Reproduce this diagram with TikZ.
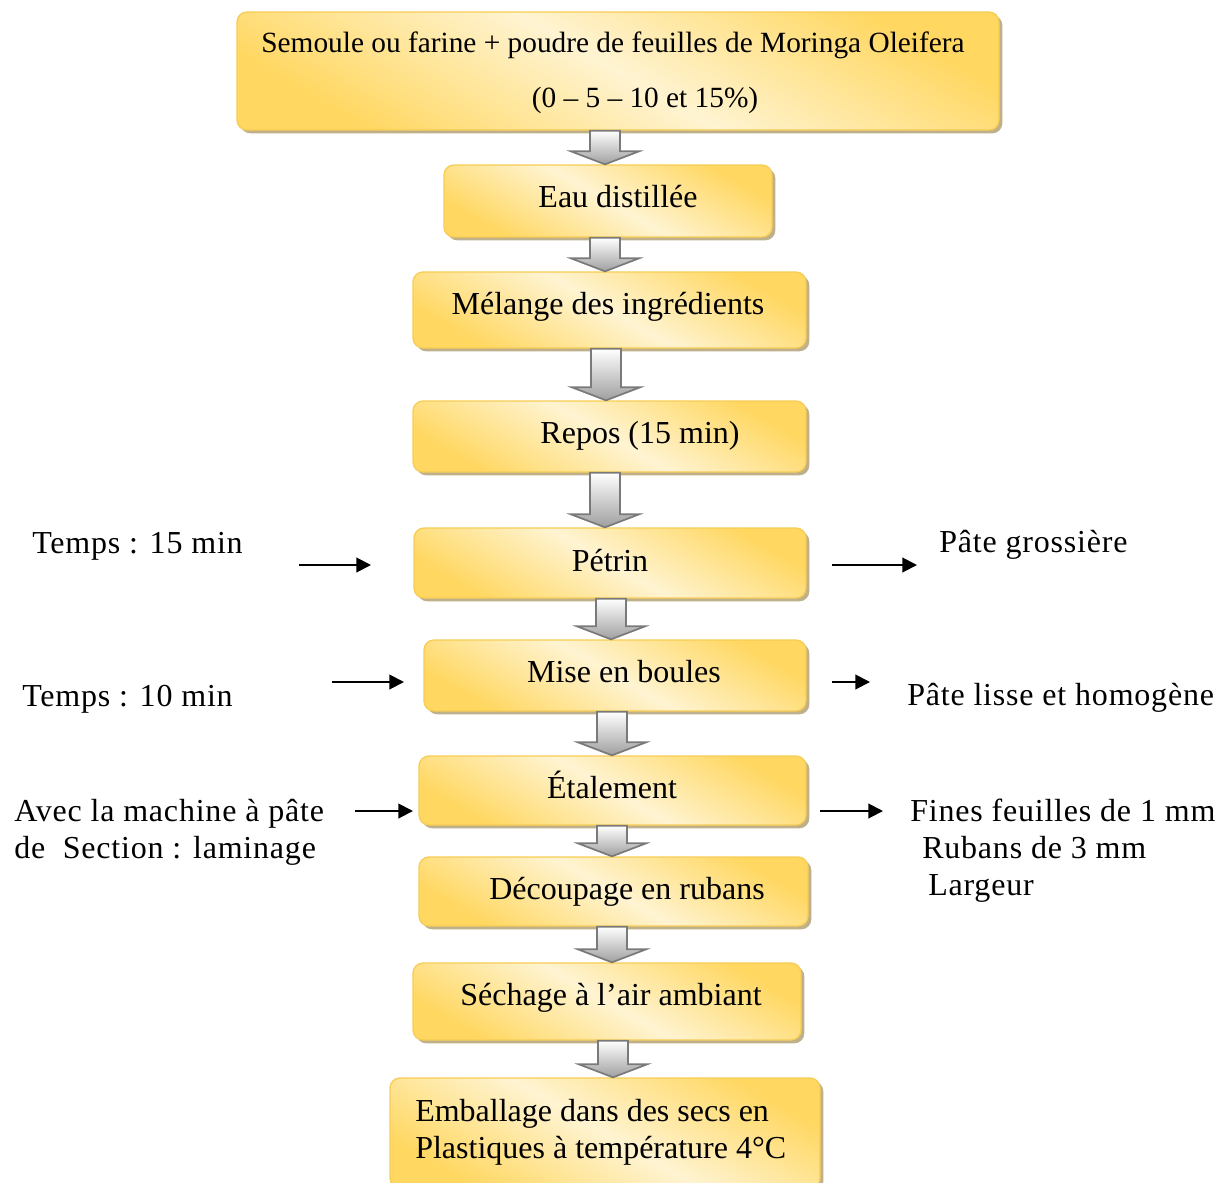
\documentclass[tikz,border=0pt]{standalone}
\usepackage{fontspec}
\setmainfont{Liberation Serif}
\newfontfamily\sidefont[LetterSpace=2.5]{Liberation Serif}
\usetikzlibrary{shadows,arrows.meta,calc}
\definecolor{boxdark}{HTML}{FFD761}
\definecolor{boxlight}{HTML}{FFF4D2}
\definecolor{boxline}{HTML}{F8CD55}
\definecolor{shadowcol}{HTML}{BDB08A}
\definecolor{arrline}{HTML}{7A7A7A}
\pgfdeclarehorizontalshading{goldsh}{100bp}{color(0bp)=(boxdark); color(25bp)=(boxdark); color(50bp)=(boxlight); color(75bp)=(boxdark); color(100bp)=(boxdark)}
\newcommand\barr[3]{%
  \draw[barrow] let \p1=(#2.south), \p2=(#3.north) in
    ({#1*0.75pt-11.25pt},\y1) -- ({#1*0.75pt+11.25pt},\y1) --
    ({#1*0.75pt+11.25pt},\y2+9.75pt) -- ({#1*0.75pt+25.5pt},\y2+9.75pt) --
    ({#1*0.75pt},\y2) -- ({#1*0.75pt-25.5pt},\y2+9.75pt) --
    ({#1*0.75pt-11.25pt},\y2+9.75pt) -- cycle;}
\begin{document}
\begin{tikzpicture}[x=0.75pt,y=-0.75pt,
  box/.style={draw=boxline, line width=1pt, rounded corners=7.5pt, shade, shading=goldsh, shading angle=60,
    drop shadow={shadow xshift=2.5pt, shadow yshift=-2.5pt, fill=shadowcol, opacity=1}, inner sep=0pt},
  txt/.style={font=\fontsize{24}{28}\selectfont, anchor=base, inner sep=0pt},
  sidetxt/.style={font=\sidefont\fontsize{24}{28}\selectfont, anchor=base west, inner sep=0pt},
  smalltxt/.style={font=\fontsize{22}{26}\selectfont, anchor=base, inner sep=0pt},
  sidearrow/.style={-{Triangle[length=11pt,width=11pt]}, line width=1.5pt},
  barrow/.style={draw=arrline, line width=1.3pt, top color=white, bottom color=gray!75}
]
\useasboundingbox (0,0) rectangle (1231,1182);

% boxes
\node[box, minimum width=571.5pt, minimum height=88.5pt] (b1) at (618,71) {};
\node[box, minimum width=246pt, minimum height=54pt] (b2) at (608,201) {};
\node[box, minimum width=294.75pt, minimum height=57pt] (b3) at (609.5,310) {};
\node[box, minimum width=294.75pt, minimum height=53.25pt] (b4) at (609.5,436.5) {};
\node[box, minimum width=294pt, minimum height=52.5pt] (b5) at (610,563) {};
\node[box, minimum width=286.5pt, minimum height=53.25pt] (b6) at (615,675.5) {};
\node[box, minimum width=290.25pt, minimum height=51.75pt] (b7) at (612.5,790.5) {};
\node[box, minimum width=291.75pt, minimum height=51.75pt] (b8) at (613.5,891.5) {};
\node[box, minimum width=291pt, minimum height=57.75pt] (b9) at (607,1001.5) {};
\node[box, minimum width=322.5pt, minimum height=82.5pt] (b10) at (605,1133) {};

% box texts
\node[smalltxt] (t1a) at (613,52) {Semoule ou farine + poudre de feuilles de Moringa Oleifera};
\node[smalltxt] (t1b) at (645,107) {(0 – 5 – 10 et 15\%)};
\node[txt] (t2) at (618,207) {Eau distillée};
\node[txt] (t3) at (608,314) {Mélange des ingrédients};
\node[txt] (t4) at (640,443) {Repos (15 min)};
\node[txt] (t5) at (610,571) {Pétrin};
\node[txt] (t6) at (624,682) {Mise en boules};
\node[txt] (t7) at (612,798) {Étalement};
\node[txt] (t8) at (627,899) {Découpage en rubans};
\node[txt] (t9) at (611,1005) {Séchage à l’air ambiant};
\node[txt, anchor=base west] (t10a) at (415,1121) {Emballage dans des secs en};
\node[txt, anchor=base west] (t10b) at (415,1158) {Plastiques à température 4°C};

% block arrows
\barr{605}{b1}{b2}
\barr{605}{b2}{b3}
\barr{606}{b3}{b4}
\barr{605}{b4}{b5}
\barr{611}{b5}{b6}
\barr{612}{b6}{b7}
\barr{612}{b7}{b8}
\barr{612}{b8}{b9}
\barr{613}{b9}{b10}

% side texts
\node[sidetxt] (l1) at (32,553) {Temps : 15 min};
\node[sidetxt] (l2) at (22,706) {Temps : 10 min};
\node[sidetxt] (l3a) at (14,821) {Avec la machine à pâte};
\node[sidetxt] (l3b) at (14,858) {de\ \ Section : laminage};
\node[sidetxt] (r1) at (939,552) {Pâte grossière};
\node[sidetxt] (r2) at (907,705) {Pâte lisse et homogène};
\node[sidetxt] (r3a) at (910,821) {Fines feuilles de 1 mm};
\node[sidetxt] (r3b) at (922,858) {Rubans de 3 mm};
\node[sidetxt] (r3c) at (928,895) {Largeur};

% side arrows
\coordinate (la1) at (299,565); \coordinate (la2) at (371,565);
\coordinate (lb1) at (332,682); \coordinate (lb2) at (404,682);
\coordinate (lc1) at (355,811); \coordinate (lc2) at (413,811);
\coordinate (ra1) at (832,565); \coordinate (ra2) at (917,565);
\coordinate (rb1) at (832,682); \coordinate (rb2) at (870,682);
\coordinate (rc1) at (820,811); \coordinate (rc2) at (883,811);
\draw[sidearrow] (la1) -- (la2);
\draw[sidearrow] (lb1) -- (lb2);
\draw[sidearrow] (lc1) -- (lc2);
\draw[sidearrow] (ra1) -- (ra2);
\draw[sidearrow] (rb1) -- (rb2);
\draw[sidearrow] (rc1) -- (rc2);
\end{tikzpicture}
\end{document}
